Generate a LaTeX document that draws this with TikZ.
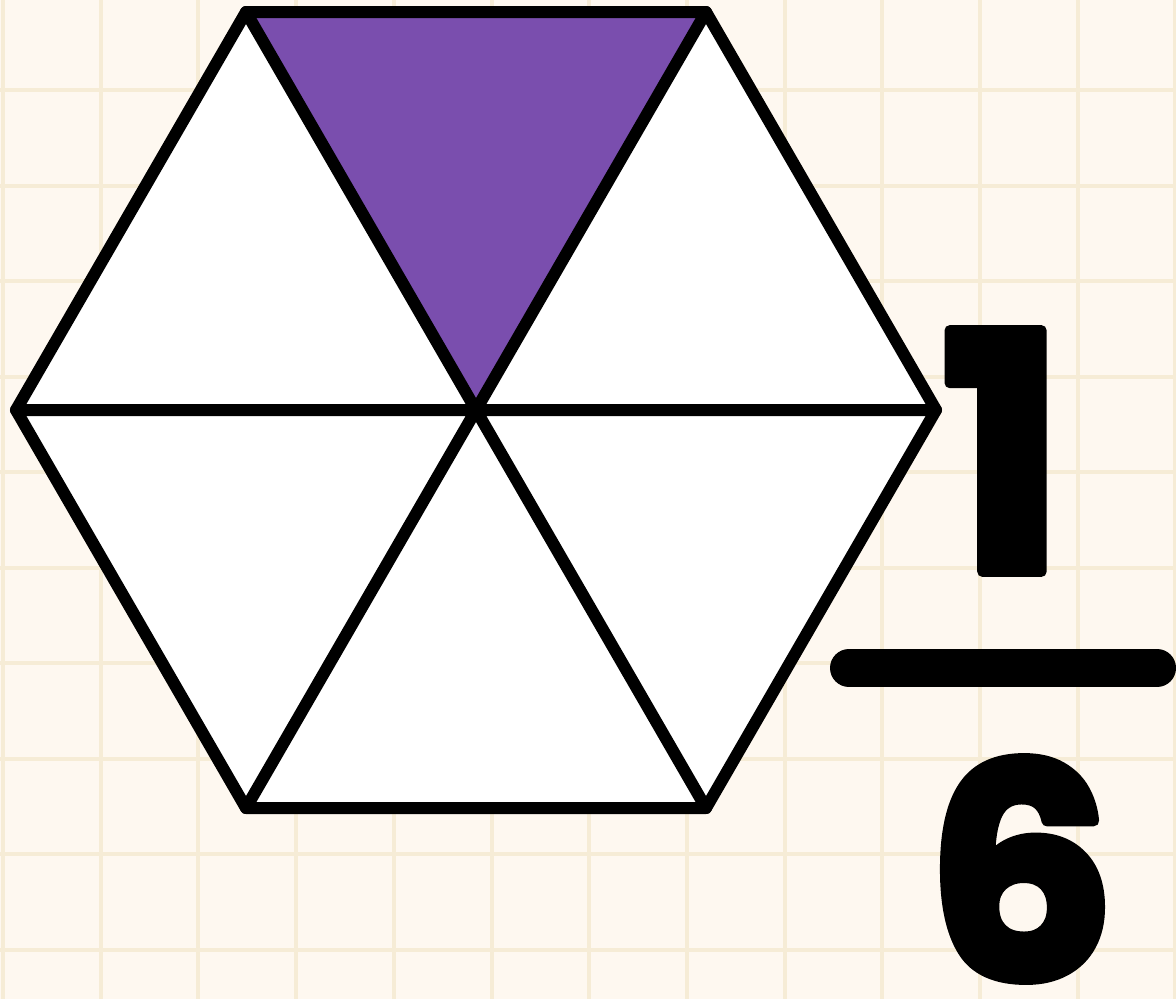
\documentclass[tikz,border=0pt]{standalone}
\usepackage{fontspec}
\newfontfamily\digitfont{Poppins}
\definecolor{paper}{HTML}{FEF8F0}
\definecolor{gridline}{HTML}{F6ECD6}
\definecolor{slice}{HTML}{7A4EAE}
\newcommand\roundglyph[1]{\special{pdf:literal direct q 2 Tr 3 w 1 j}#1\special{pdf:literal direct Q}}
\tikzset{
  edge/.style={line width=0.12cm,line join=round,line cap=round},
  digit/.style={inner sep=0pt,font=\digitfont\bfseries\fontsize{94}{94}\selectfont}
}
\begin{document}
\begin{tikzpicture}[x=0.01cm,y=-0.01cm]
 \fill[paper] (0,0) rectangle (1176,999);
 \useasboundingbox (0,0) rectangle (1176,999);
 \foreach \i in {0,...,12} \draw[gridline,line width=0.04cm] (3+97.7*\i,0)--(3+97.7*\i,999);
 \foreach \j in {-1,...,9} \draw[gridline,line width=0.04cm] (0,90+95.5*\j)--(1176,90+95.5*\j);
 % hexagon corners
 \coordinate (c) at (476,410);
 \coordinate (tl) at (246,12); \coordinate (tr) at (706,12);
 \coordinate (r) at (936,410); \coordinate (br) at (706,808);
 \coordinate (bl) at (246,808); \coordinate (l) at (16,410);
 \fill[white] (tl)--(tr)--(r)--(br)--(bl)--(l)--cycle;
 \fill[slice] (tl)--(tr)--(c)--cycle;
 \draw[edge] (tl)--(tr)--(r)--(br)--(bl)--(l)--cycle;
 \draw[edge] (tl)--(br) (tr)--(bl) (l)--(r);
 % fraction
 \node[digit] (num) at (1003,451) {\roundglyph{1}};
 \draw[line width=0.38cm,line cap=round] (849,668)--(1157,668);
 \node[digit,font=\digitfont\bfseries\fontsize{84}{84}\selectfont] (den) at (1021,869) {\roundglyph{6}};
\end{tikzpicture}
\end{document}
